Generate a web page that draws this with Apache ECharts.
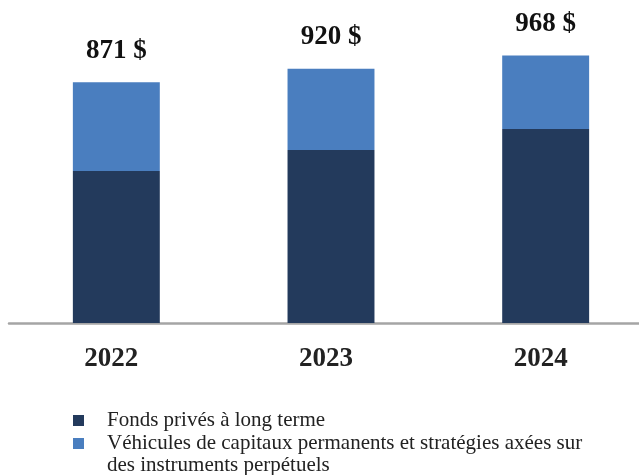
<!DOCTYPE html>
<html>
<head>
<meta charset="utf-8">
<script src="https://cdn.jsdelivr.net/npm/echarts@6/dist/echarts.min.js"></script>
<style>
  html, body { margin: 0; padding: 0; background: #fff; }
  #chart { width: 639px; height: 475px; }
</style>
</head>
<body>
<div id="chart"></div>
<script>
  // data
  const years = ['2022', '2023', '2024'];
  const longTermFunds = [550, 626, 702];
  const perpetualVehicles = [321, 294, 266];
  const totals = [871, 920, 968];
  const seriesNames = [
    'Fonds privés à long terme',
    'Véhicules de capitaux permanents et stratégies axées sur'
  ];
  const legendExtraLine = 'des instruments perpétuels';

  const serif = '"Liberation Serif", "DejaVu Serif", serif';

  const chart = echarts.init(document.getElementById('chart'));
  const option = {
    animation: false,
    grid: {
      left: 9,
      width: 644,
      top: 19,
      bottom: 152,
      outerBoundsMode: 'none'
    },
    legend: {
      orient: 'vertical',
      left: 73,
      top: 409,
      padding: 0,
      itemGap: 0,
      itemWidth: 11,
      itemHeight: 11,
      icon: 'rect',
      selectedMode: false,
      data: seriesNames,
      textStyle: {
        fontFamily: serif,
        fontSize: 21,
        lineHeight: 23,
        color: '#222',
        padding: [0, 0, 0, 18]
      }
    },
    graphic: [
      {
        type: 'text',
        left: 107,
        top: 455,
        style: {
          text: legendExtraLine,
          font: '21px ' + serif,
          fill: '#222'
        }
      }
    ],
    xAxis: {
      type: 'category',
      data: years,
      axisTick: { show: false },
      axisLine: { lineStyle: { color: '#a5a5a5', width: 2.5 } },
      axisLabel: {
        margin: 23,
        padding: [0, 10, 0, 0],
        fontFamily: serif,
        fontWeight: 'bold',
        fontSize: 27,
        color: '#222'
      }
    },
    yAxis: {
      type: 'value',
      min: 0,
      max: 1100,
      show: false,
      splitLine: { show: false }
    },
    series: [
      {
        name: seriesNames[0],
        type: 'bar',
        stack: 'aum',
        barWidth: '40.5%',
        itemStyle: { color: '#233A5C' },
        data: longTermFunds
      },
      {
        name: seriesNames[1],
        type: 'bar',
        stack: 'aum',
        barWidth: '40.5%',
        itemStyle: { color: '#4A7EBF' },
        label: {
          show: true,
          position: 'top',
          distance: 18,
          fontFamily: serif,
          fontWeight: 'bold',
          fontSize: 27,
          color: '#111',
          formatter: p => totals[p.dataIndex] + ' $'
        },
        data: perpetualVehicles
      }
    ]
  };
  chart.setOption(option);
</script>
</body>
</html>
